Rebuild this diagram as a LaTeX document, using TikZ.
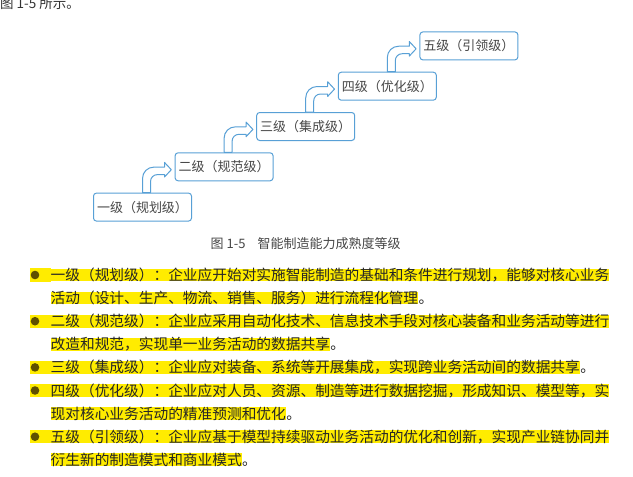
\documentclass[tikz,border=0pt]{standalone}
\usepackage{fontspec}
\usepackage{tikz}
\usetikzlibrary{positioning}
\newfontfamily\cjk{Noto Sans CJK SC}
\definecolor{boxblue}{RGB}{88,160,214}
\definecolor{hlyellow}{RGB}{255,236,0}
\definecolor{dotcol}{RGB}{95,80,0}
\definecolor{capgray}{RGB}{70,70,70}

\begin{document}
\begin{tikzpicture}[x=1pt,y=-1pt,
	levelbox/.style={rectangle, draw=boxblue, line width=1pt, rounded corners=3pt, fill=white, minimum width=98pt, minimum height=28pt, inner sep=0pt, text=capgray, font=\cjk\fontsize{13}{15}\selectfont},
	upstep/.style={draw=boxblue, line width=1pt, fill=white, line join=round},
	bodyline/.style={anchor=west, inner xsep=0pt, inner ysep=0pt, text height=11.9pt, text depth=0.8pt, fill=hlyellow, text=black!85, font=\cjk\fontsize{14.7}{16}\selectfont}]
	\fill[white] (0,0) rectangle (633,477);
	\useasboundingbox (0,0) rectangle (633,477);

	\node[anchor=base west, inner sep=0pt, text=black!80, font=\cjk\fontsize{13.5}{15}\selectfont] (intro) at (0,8.5) {图 1-5 所示。};

			\foreach \lbl [count=\i] in {一级（规划级）,二级（规范级）,三级（集成级）,四级（优化级）,五级（引领级）}
			   {\node [levelbox] (L\i) at ({305.7+81.6*(\i-3)},{126.5-40.3*(\i-3)}) {\lbl};}

			\foreach \i [count=\j from 2] in {1,...,4}
			   \draw[upstep] (L\i.north) -- ++(0,-14) .. controls +(0,-6.5) and +(-6.5,0) .. ++(11.5,-11.5) -- ++(10.5,0) -- ++(0,-4.7) -- ++(6.8,7.3) -- ++(-6.8,7.3) -- ++(0,-2.4) -- ++(-7,0) .. controls +(-4,0) and +(0,-4) .. ++(-7,7) -- ++(0,11) -- cycle;

	\node[anchor=west, inner sep=0pt, text=capgray, font=\cjk\fontsize{13}{15}\selectfont] (cap) at (210.5,243.8) {图 1-5\hspace{12pt}智能制造能力成熟度等级};

			\foreach \txt [count=\k] in {一级（规划级）：企业应开始对实施智能制造的基础和条件进行规划，能够对核心业务,
			   活动（设计、生产、物流、销售、服务）进行流程化管理,
			   二级（规范级）：企业应采用自动化技术、信息技术手段对核心装备和业务活动等进行,
			   改造和规范，实现单一业务活动的数据共享,
			   三级（集成级）：企业应对装备、系统等开展集成，实现跨业务活动间的数据共享,
			   四级（优化级）：企业应对人员、资源、制造等进行数据挖掘，形成知识、模型等，实,
			   现对核心业务活动的精准预测和优化,
			   五级（引领级）：企业应基于模型持续驱动业务活动的优化和创新，实现产业链协同并,
			   衍生新的制造模式和商业模式}
			   {\node [bodyline] (B\k) at (50.5,{275+23.1*(\k-1)}) {\txt};}

			\foreach \k in {2,4,5,7,9}
			   \node [bodyline, fill=none, right=0pt of B\k] (E\k) {。};

			\foreach \k in {1,3,5,6,8}
			   {\fill[hlyellow] ([xshift=-20.5pt]B\k.south west) rectangle ([xshift=0.3pt]B\k.north west);
			    \fill[dotcol] ([xshift=-15.5pt]B\k.west) circle (4.3pt);}
\end{tikzpicture}
\end{document}
